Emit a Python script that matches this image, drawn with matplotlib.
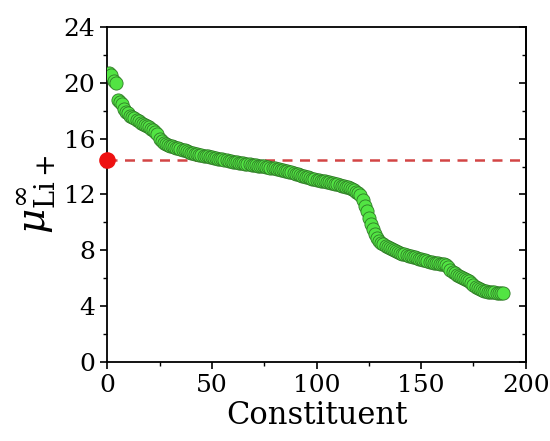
import matplotlib
matplotlib.use("Agg")
import matplotlib.pyplot as plt
from matplotlib.ticker import MultipleLocator

# mu_inf(Li+) per constituent, sorted descending
mu_values = [
    20.7, 20.55, 20.1, 20.0, 18.8, 18.6, 18.5, 18.1, 17.9, 17.8,
    17.65, 17.55, 17.45, 17.35, 17.25, 17.15, 17.05, 16.95, 16.9, 16.8,
    16.7, 16.6, 16.5, 16.35, 15.95, 15.8, 15.7, 15.6, 15.55, 15.5,
    15.45, 15.4, 15.35, 15.3, 15.25, 15.2, 15.15, 15.1, 15.05, 15.0,
    14.95, 14.92, 14.88, 14.85, 14.82, 14.78, 14.75, 14.72, 14.68, 14.65,
    14.62, 14.6, 14.57, 14.54, 14.51, 14.48, 14.45, 14.42, 14.39, 14.36,
    14.33, 14.3, 14.28, 14.25, 14.22, 14.2, 14.17, 14.15, 14.13, 14.11,
    14.09, 14.07, 14.05, 14.03, 14.01, 13.99, 13.96, 13.93, 13.9, 13.87,
    13.84, 13.8, 13.77, 13.74, 13.7, 13.66, 13.62, 13.58, 13.54, 13.49,
    13.45, 13.4, 13.35, 13.3, 13.26, 13.22, 13.18, 13.14, 13.1, 13.06,
    13.03, 13.0, 12.97, 12.94, 12.91, 12.88, 12.84, 12.8, 12.76, 12.72,
    12.68, 12.64, 12.6, 12.55, 12.5, 12.45, 12.38, 12.3, 12.2, 12.08,
    11.95, 11.6, 11.2, 10.8, 10.3, 9.9, 9.5, 9.2, 8.9, 8.7,
    8.55, 8.42, 8.32, 8.22, 8.15, 8.08, 8.0, 7.93, 7.86, 7.8,
    7.76, 7.72, 7.67, 7.62, 7.57, 7.53, 7.49, 7.45, 7.41, 7.37,
    7.33, 7.28, 7.24, 7.2, 7.16, 7.12, 7.1, 7.07, 7.05, 7.02,
    7.0, 6.95, 6.8, 6.6, 6.45, 6.35, 6.25, 6.15, 6.08, 6.02,
    5.95, 5.88, 5.8, 5.65, 5.5, 5.38, 5.3, 5.22, 5.15, 5.1,
    5.07, 5.05, 5.03, 5.01, 5.0, 4.98, 4.97, 4.96, 4.95,
]
constituent = list(range(1, len(mu_values) + 1))
ref_value = 14.5  # reference mu of Li+
ref_x = [0]


def main():
    plt.rcParams['font.family'] = ['DejaVu Serif']
    plt.rcParams['mathtext.fontset'] = 'dejavuserif'

    fig = plt.figure(figsize=(5.5, 4.41), dpi=100)
    ax = fig.add_axes([0.195, 0.179, 0.761, 0.760])

    ax.axhline(ref_value, color='#d34545', linestyle=(0, (4, 3)), linewidth=1.8, zorder=1)
    ax.scatter(constituent, mu_values, s=90, facecolor='#52e443', edgecolor='#2f7a26',
               linewidth=0.6, zorder=3)
    ax.scatter(ref_x, [ref_value], s=120, color='#ee1111', zorder=4, clip_on=False)

    ax.set_xlim(0, 200)
    ax.set_ylim(0, 24)
    ax.xaxis.set_major_locator(MultipleLocator(50))
    ax.xaxis.set_minor_locator(MultipleLocator(25))
    ax.yaxis.set_major_locator(MultipleLocator(4))
    ax.yaxis.set_minor_locator(MultipleLocator(2))
    ax.tick_params(axis='both', which='major', labelsize=18, length=5, width=1.2)
    ax.tick_params(axis='both', which='minor', length=3, width=1.0)
    ax.tick_params(axis='y', which='both', direction='out')
    ax.tick_params(axis='x', which='both', direction='out', top=False)
    # inward ticks on the right spine, no labels
    ax_r = ax.secondary_yaxis('right')
    ax_r.yaxis.set_major_locator(MultipleLocator(4))
    ax_r.yaxis.set_minor_locator(MultipleLocator(2))
    ax_r.tick_params(which='major', direction='in', length=5, width=1.2, labelright=False)
    ax_r.tick_params(which='minor', direction='in', length=3, width=1.0)
    for s in ax.spines.values():
        s.set_linewidth(1.3)
    ax_r.spines['right'].set_linewidth(1.3)

    ax.set_xlabel('Constituent', fontsize=22, labelpad=2)
    ax.set_ylabel(r'$\mu^{\infty}_{\mathrm{Li+}}$', fontsize=28, labelpad=4)

    fig.savefig('out.png', dpi=100)


if __name__ == "__main__":
    main()
